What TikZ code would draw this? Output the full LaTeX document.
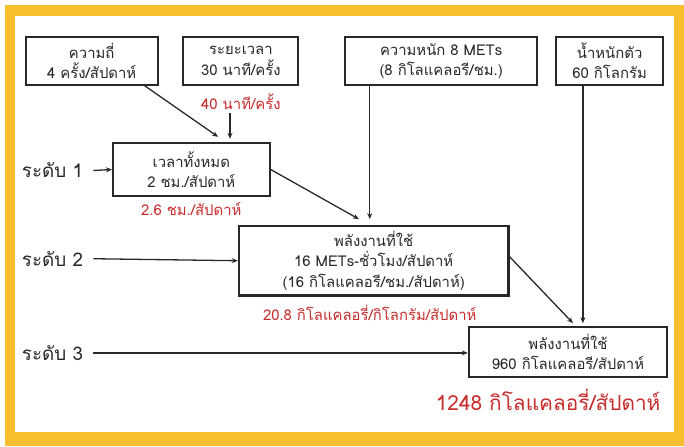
\documentclass[tikz,border=0pt]{standalone}
\usepackage{fontspec}
\setmainfont[Script=Thai]{Loma}
\usetikzlibrary{arrows.meta}
\definecolor{frameyellow}{RGB}{249,190,45}
\definecolor{txtred}{RGB}{200,45,45}
\definecolor{ink}{RGB}{40,40,40}
\begin{document}
\begin{tikzpicture}[x=1pt,y=-1pt,
  box/.style={draw=ink, line width=2.2pt, align=center, text=ink, inner sep=0pt,
    font=\fontsize{15}{20.5}\selectfont},
  redlbl/.style={text=txtred, font=\fontsize{15}{18}\selectfont, inner sep=0pt},
  lvl/.style={text=ink, font=\fontsize{19}{22}\selectfont, inner sep=0pt},
  arr/.style={draw=ink, line width=1.3pt, -{Stealth[length=6pt,width=5pt]}},
  ln/.style={draw=ink, line width=1.3pt}]
\fill[white] (0,0) rectangle (684,443);
\fill[frameyellow] (5,5) rectangle (690,450);
\fill[white] (15,16) rectangle (680,436);
\useasboundingbox (0,0) rectangle (684,443);

\node[box, minimum width=133pt, minimum height=48pt] (b1) at (92.5,61.5) {ความถี่\\4 ครั้ง/สัปดาห์};
\node[box, minimum width=116pt, minimum height=48pt] (b2) at (243,61.5) {ระยะเวลา\\30 นาที/ครั้ง};
\node[box, minimum width=194pt, minimum height=48pt] (b3) at (445,61.5) {ความหนัก 8 METs\\(8 กิโลแคลอรี/ชม.)};
\node[box, minimum width=108pt, minimum height=48pt] (b4) at (615,61.5) {น้ำหนักตัว\\60 กิโลกรัม};
\node[box, minimum width=158pt, minimum height=54pt] (c1) at (193,171) {เวลาทั้งหมด\\2 ชม./สัปดาห์};
\node[box, minimum width=272pt, minimum height=70pt] (c2) at (377,263) {พลังงานที่ใช้\\16 METs-ชั่วโมง/สัปดาห์\\(16 กิโลแคลอรี/ชม./สัปดาห์)};
\node[box, minimum width=200pt, minimum height=50pt] (c3) at (573,355) {พลังงานที่ใช้\\960 กิโลแคลอรี/สัปดาห์};

\node[redlbl] (r1) at (243,103) {40 นาที/ครั้ง};
\node[redlbl] (r2) at (193,211) {2.6 ชม./สัปดาห์};
\node[redlbl] (r3) at (373,316) {20.8 กิโลแคลอรี่/กิโลกรัม/สัปดาห์};
\node[text=txtred, font=\fontsize{21}{25}\selectfont, inner sep=0pt] (r4) at (553,403) {1248 กิโลแคลอรี่/สัปดาห์};

\node[lvl] (l1) at (53,172) {ระดับ 1};
\node[lvl] (l2) at (53,261) {ระดับ 2};
\node[lvl] (l3) at (53,356) {ระดับ 3};

\coordinate (p1) at (220,138);
\coordinate (p2) at (362,221);
\coordinate (p3) at (373,221);
\coordinate (p4) at (578,326);
\coordinate (p5) at (588,326);

\draw[arr] ([xshift=-14pt]b1.south east) -- (p1);
\draw[arr] (232,114) -- (232,140);
\draw[arr] (c1.east) -- (p2);
\draw[arr] (b3.south -| p3) -- (p3);
\draw[arr] (b4.south -| p5) -- (p5);
\draw[arr] ([yshift=4pt]c2.east) -- (p4);
\draw[arr] ([xshift=10pt]l1.east) -- (c1.west);
\draw[arr] ([xshift=10pt]l2.east) -- (c2.west);
\draw[arr] ([xshift=10pt]l3.east) -- (c3.west |- l3);
\end{tikzpicture}
\end{document}
